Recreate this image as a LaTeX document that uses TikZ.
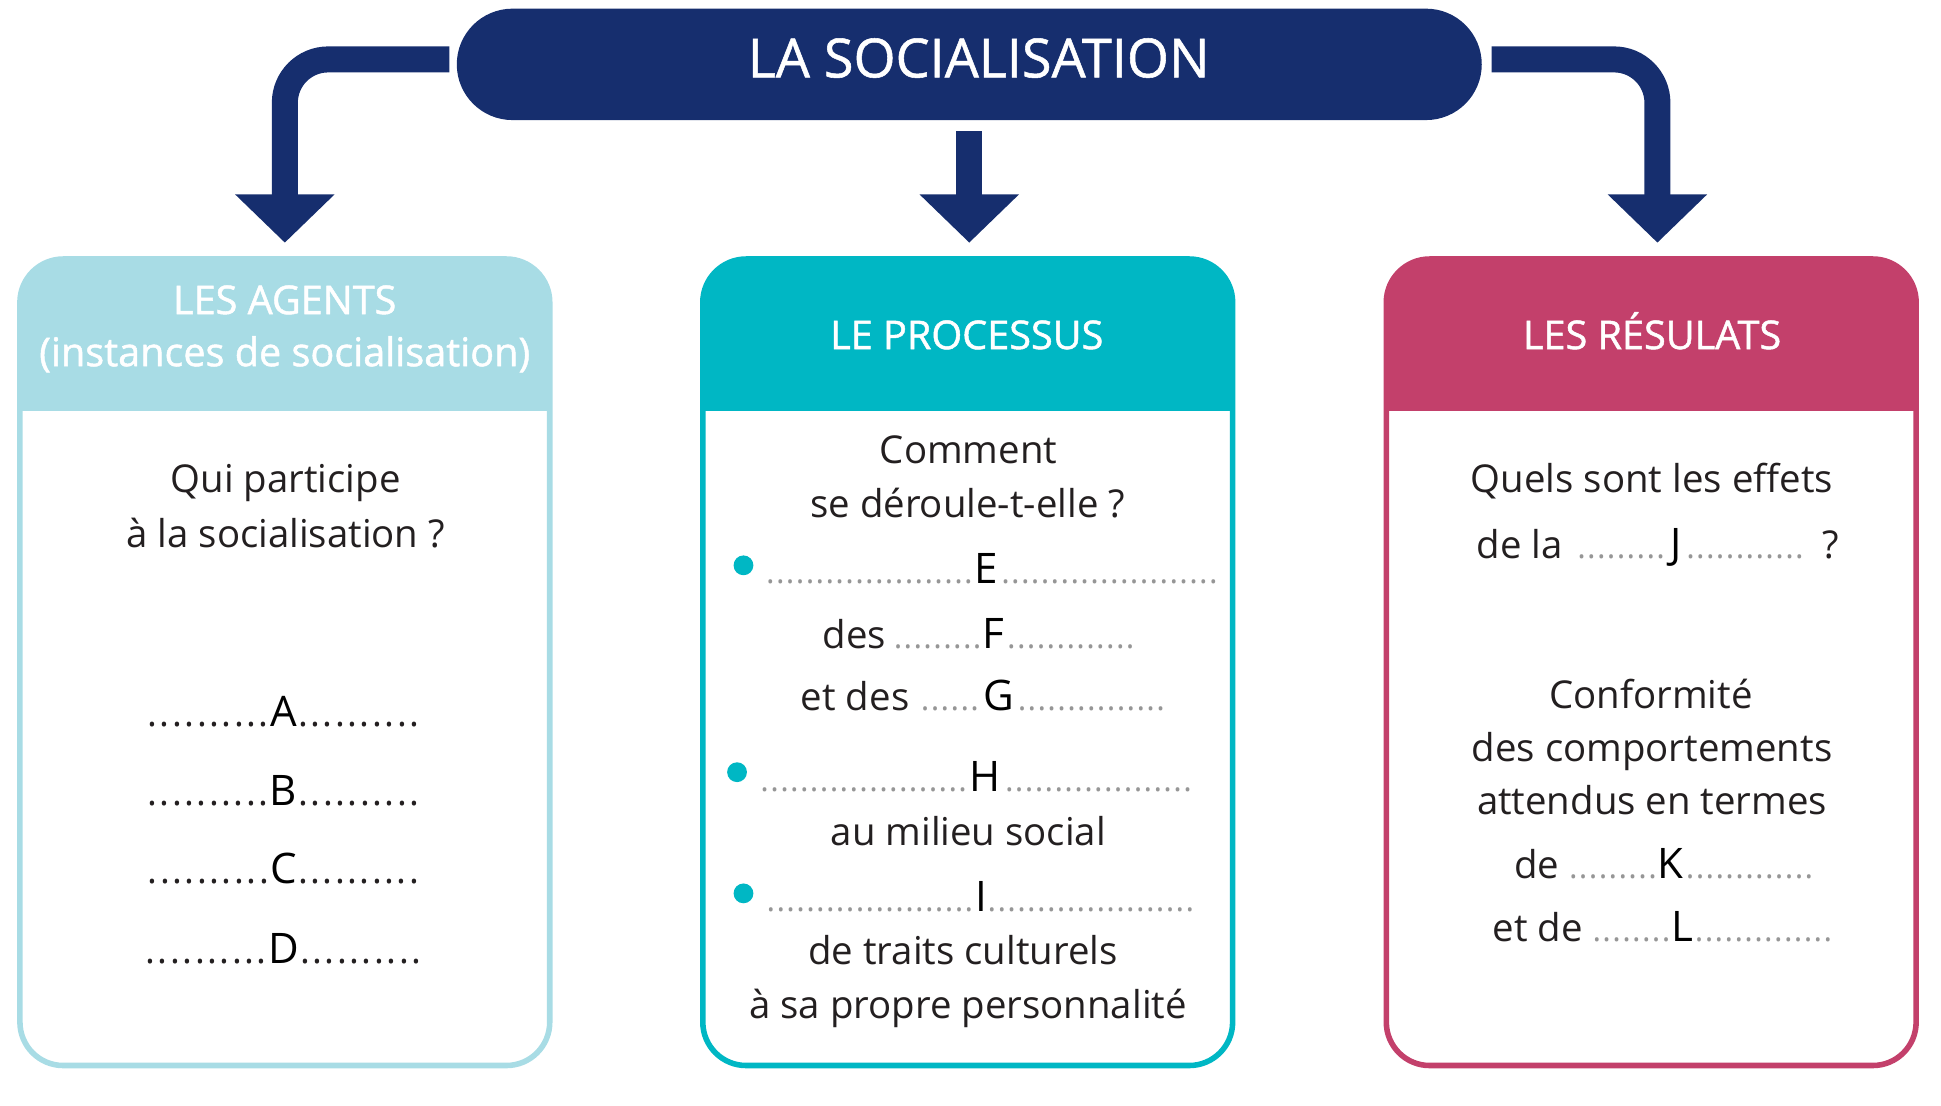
\documentclass[tikz,border=0pt]{standalone}
\usepackage{fontspec}
\setmainfont{Open Sans}
\newfontfamily\hdrfont{Open Sans}[FakeBold=1.2]
\newfontfamily\ttlfont{Open Sans}[FakeBold=1.0]
\usetikzlibrary{arrows.meta}
\definecolor{navy}{RGB}{22,46,110}
\definecolor{lblue}{RGB}{168,220,229}
\definecolor{teal}{RGB}{0,183,196}
\definecolor{crim}{RGB}{195,64,107}
\definecolor{txtc}{RGB}{35,31,32}
\definecolor{dotgray}{RGB}{150,150,150}
\newdimen\pxu \pxu=0.5pt
\newcommand\dotrow[3]{\hbox to #2\pxu{\color{#1}\cleaders\hbox to #3{\hss.\hss}\hfill}}
\newcommand\gdots[1]{{\fontsize{13}{13}\selectfont\dotrow{dotgray}{#1}{4pt}}}
\newcommand\bdots[1]{{\fontsize{15}{15}\selectfont\dotrow{txtc}{#1}{5pt}}}
\newcommand\lt[1]{{\fontsize{17}{17}\selectfont\color{black}#1}}
\tikzset{
  txt/.style={text=txtc, font=\fontsize{15.5}{19}\selectfont, inner sep=0pt},
  hdr/.style={text=white, font=\hdrfont\fontsize{16}{19}\selectfont, inner sep=0pt},
  titlebox/.style={fill=navy, rounded corners=22.5pt, minimum width=414pt, minimum height=45pt, inner sep=0pt, outer sep=0pt},
  panel/.style={draw=#1, fill=white, line width=2.25pt, rounded corners=17.5pt, minimum width=214pt, minimum height=325.75pt, inner sep=0pt, outer sep=0pt},
  bigarrow/.style={draw=navy, line width=10.5pt, rounded corners=17.5pt, -{Triangle[length=19.5pt,width=39pt]}},
  bullet/.style={circle, fill=teal, minimum size=8pt, inner sep=0pt},
}
\begin{document}
\begin{tikzpicture}[x=0.5pt,y=-0.5pt]
\useasboundingbox (0,0) rectangle (1568,893);
% title
\node[titlebox] (title) at (783,52) {};
\node[text=white, font=\ttlfont\fontsize{21.8}{24}\selectfont, inner sep=0pt, anchor=base] (titleT) at (790.6,62.5) {LA SOCIALISATION};
% panels
\node[panel=lblue] (agents) at (230.1,535) {};
\node[panel=teal] (process) at (781.75,535) {};
\node[panel=crim] (results) at (1333.9,535) {};
\begin{scope}
  \clip[rounded corners=17.5pt] (agents.north west) rectangle (agents.south east);
  \fill[lblue] (agents.north west) rectangle (agents.east |- 0,332);
\end{scope}
\begin{scope}
  \clip[rounded corners=17.5pt] (process.north west) rectangle (process.south east);
  \fill[teal] (process.north west) rectangle (process.east |- 0,332);
\end{scope}
\begin{scope}
  \clip[rounded corners=17.5pt] (results.north west) rectangle (results.south east);
  \fill[crim] (results.north west) rectangle (results.east |- 0,332);
\end{scope}
% arrows
\draw[bigarrow] ([xshift=-3pt,yshift=2pt]title.west) -| ([yshift=6.6pt]agents.north);
\draw[bigarrow] ([yshift=-4.5pt]title.south) -- ([yshift=6.6pt]title.south |- process.north);
\draw[bigarrow] ([xshift=4pt,yshift=2pt]title.east) -| ([xshift=2.5pt,yshift=6.6pt]results.north);
% left panel
\node[hdr, anchor=base] (aH1) at (230,253.7) {LES AGENTS};
\node[hdr, anchor=base] (aH2) at (230,295.8) {(instances de socialisation)};
\node[txt, anchor=base] (aQ1) at (230.8,398) {Qui participe};
\node[txt, anchor=base] (aQ2) at (230.8,442) {à la socialisation ?};
\node[txt, anchor=base] (aA) at (229,587) {\bdots{100}\lt{A}\bdots{100}};
\node[txt, anchor=base] (aB) at (229,651) {\bdots{100}\lt{B}\bdots{100}};
\node[txt, anchor=base] (aC) at (229,713.7) {\bdots{100}\lt{C}\bdots{100}};
\node[txt, anchor=base] (aD) at (229,778) {\bdots{100}\lt{D}\bdots{100}};
% middle panel
\node[hdr, anchor=base] (pH) at (781,282) {LE PROCESSUS};
\node[txt, anchor=base] (pQ1) at (782.4,374.6) {Comment};
\node[txt, anchor=base] (pQ2) at (781.7,417.7) {se déroule-t-elle ?};
\node[bullet] (b1) at (600.6,456.7) {};
\node[txt, anchor=base west] (pE) at (617,471.5) {\gdots{170}\lt{E}\gdots{180}};
\node[txt, anchor=base east] (pF0) at (716,523.5) {des};
\node[txt, anchor=base west] (pF) at (720.6,523.5) {\gdots{73}\lt{F}\gdots{107}};
\node[txt, anchor=base east] (pG0) at (735,574) {et des};
\node[txt, anchor=base west] (pG) at (740,574) {\gdots{54}\lt{G}\gdots{125}};
\node[bullet] (b2) at (595.4,623.8) {};
\node[txt, anchor=base west] (pHl) at (612.4,639.3) {\gdots{170}\lt{H}\gdots{159}};
\node[txt, anchor=base] (pM) at (782.3,683) {au milieu social};
\node[bullet] (b3) at (600.6,721.7) {};
\node[txt, anchor=base west] (pI) at (617.4,736.2) {\gdots{170}\lt{I}\gdots{168}};
\node[txt, anchor=base] (pT1) at (778,779) {de traits culturels};
\node[txt, anchor=base] (pT2) at (782,823) {à sa propre personnalité};
% right panel
\node[hdr, anchor=base] (rH) at (1334.6,282) {LES RÉSULATS};
\node[txt, anchor=base] (rQ1) at (1334.5,398) {Quels sont les effets};
\node[txt, anchor=base east] (rJ0) at (1263,450.8) {de la};
\node[txt, anchor=base west] (rJ) at (1269.7,450.8) {\gdots{79}\lt{J}\gdots{103}};
\node[txt, anchor=base west] (rJ2) at (1472,450.8) {?};
\node[txt, anchor=base] (rC1) at (1333.7,572) {Conformité};
\node[txt, anchor=base] (rC2) at (1334.6,615) {des comportements};
\node[txt, anchor=base] (rC3) at (1334.6,657.6) {attendus en termes};
\node[txt, anchor=base east] (rK0) at (1260,709.3) {de};
\node[txt, anchor=base west] (rK) at (1266.6,709.3) {\gdots{72}\lt{K}\gdots{107}};
\node[txt, anchor=base east] (rL0) at (1279,760.4) {et de};
\node[txt, anchor=base west] (rL) at (1285.6,760.4) {\gdots{64}\lt{L}\gdots{114}};
\end{tikzpicture}
\end{document}
